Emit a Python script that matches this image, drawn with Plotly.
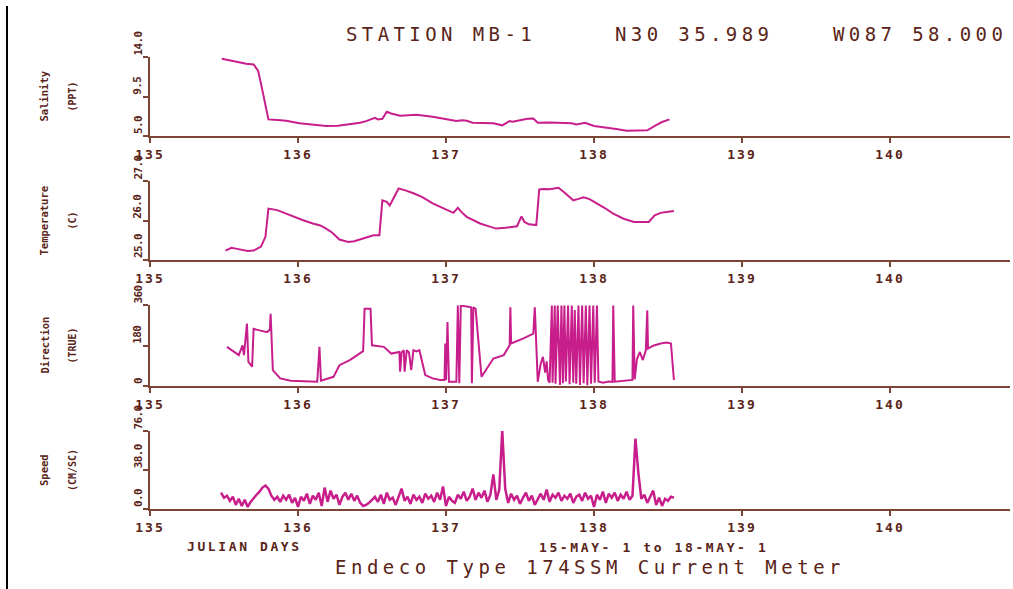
import plotly.graph_objects as go

W, H = 1013, 589

# ---------------- data ----------------
sal_day = [135.485, 135.56, 135.65, 135.70, 135.73, 135.75, 135.78, 135.80, 135.86, 135.92, 136.01, 136.10,
           136.19, 136.27, 136.35, 136.42, 136.46, 136.52, 136.54, 136.57, 136.60, 136.63, 136.69, 136.80,
           136.91, 137.00, 137.03, 137.05, 137.07, 137.11, 137.14, 137.18, 137.25, 137.32, 137.38, 137.43,
           137.45, 137.50, 137.55, 137.59, 137.62, 137.70, 137.81, 137.85, 137.88, 137.94, 138.00, 138.08,
           138.15, 138.22, 138.30, 138.36, 138.42, 138.46, 138.51]
sal_val = [13.85, 13.58, 13.28, 13.2, 12.5, 11.0, 8.34, 6.9, 6.82, 6.74, 6.45, 6.30,
           6.14, 6.17, 6.33, 6.52, 6.7, 7.09, 6.9, 6.97, 7.77, 7.58, 7.31, 7.43,
           7.2, 6.94, 6.88, 6.74, 6.71, 6.80, 6.74, 6.52, 6.50, 6.45, 6.22, 6.71,
           6.64, 6.82, 6.98, 7.0, 6.52, 6.55, 6.52, 6.45, 6.33, 6.52, 6.14, 5.98,
           5.8, 5.6, 5.58, 5.65, 6.25, 6.60, 6.9]

temp_day = [135.51, 135.55, 135.58, 135.63, 135.66, 135.70, 135.75, 135.78, 135.80, 135.86, 135.97, 136.03,
            136.10, 136.15, 136.19, 136.23, 136.28, 136.34, 136.38, 136.44, 136.47, 136.51, 136.55, 136.57,
            136.60, 136.62, 136.68, 136.72, 136.78, 136.84, 136.91, 136.98, 137.05, 137.08, 137.11, 137.14,
            137.18, 137.23, 137.28, 137.34, 137.40, 137.48, 137.51, 137.53, 137.56, 137.61, 137.63, 137.66,
            137.70, 137.76, 137.80, 137.86, 137.89, 137.93, 137.97, 138.02, 138.07, 138.13, 138.20, 138.27,
            138.32, 138.37, 138.41, 138.45, 138.49, 138.54]
temp_val = [25.24, 25.31, 25.29, 25.25, 25.23, 25.24, 25.34, 25.59, 26.31, 26.27, 26.10, 26.02,
            25.93, 25.88, 25.80, 25.70, 25.52, 25.46, 25.48, 25.55, 25.60, 25.63, 25.63, 26.52,
            26.48, 26.39, 26.82, 26.78, 26.70, 26.60, 26.44, 26.33, 26.20, 26.33, 26.20, 26.10,
            26.02, 25.93, 25.87, 25.80, 25.82, 25.86, 26.11, 25.97, 25.91, 25.89, 26.80, 26.81,
            26.80, 26.84, 26.72, 26.52, 26.55, 26.60, 26.55, 26.45, 26.33, 26.18, 26.05, 25.97,
            25.97, 25.97, 26.14, 26.20, 26.22, 26.25]

dir_day = [135.52, 135.56, 135.60, 135.625, 135.635, 135.655, 135.665, 135.69, 135.70, 135.72, 135.74, 135.79,
           135.81, 135.815, 135.83, 135.88, 135.95, 136.01, 136.13, 136.145, 136.155, 136.24, 136.28, 136.35,
           136.44, 136.45, 136.49, 136.50, 136.58, 136.63, 136.685, 136.69, 136.70, 136.715, 136.72, 136.735,
           136.75, 136.765, 136.78, 136.80, 136.82, 136.86, 136.91, 136.96, 136.99, 136.995, 137.00, 137.01,
           137.02, 137.07, 137.08, 137.09, 137.10, 137.17, 137.175, 137.185, 137.20, 137.24, 137.32, 137.39,
           137.43, 137.435, 137.44, 137.52, 137.59, 137.60, 137.62, 137.64, 137.655, 137.67, 137.68, 137.69,
           137.70, 137.715, 137.72, 137.735, 137.74, 137.755, 137.77, 137.78, 137.79, 137.80, 137.81, 137.825,
           137.835, 137.85, 137.86, 137.87, 137.88, 137.895, 137.905, 137.92, 137.93, 137.945, 137.955, 137.97,
           137.98, 137.995, 138.005, 138.02, 138.03, 138.06, 138.10, 138.125, 138.13, 138.14, 138.22, 138.26,
           138.265, 138.275, 138.29, 138.31, 138.33, 138.35, 138.36, 138.365, 138.40, 138.45, 138.49, 138.52,
           138.54]
dir_val = [175, 157, 138, 182, 138, 279, 108, 86, 256, 252, 249, 241,
           252, 323, 71, 34, 24, 22, 19, 175, 24, 41, 93, 116,
           156, 345, 345, 182, 175, 145, 152, 64, 150, 160, 64, 160,
           150, 71, 160, 155, 160, 49, 34, 27, 27, 190, 27, 286,
           19, 19, 360, 12, 360, 352, 12, 352, 345, 41, 123, 138,
           182, 352, 190, 212, 234, 352, 19, 100, 130, 60, 110, 27,
           15, 360, 15, 360, 10, 360, 5, 360, 12, 360, 20, 360,
           8, 360, 15, 340, 10, 360, 5, 360, 12, 360, 3, 360,
           10, 360, 15, 360, 20, 15, 20, 18, 360, 19, 25, 27,
           360, 30, 120, 152, 116, 160, 338, 167, 180, 190, 194, 190,
           27]

spd_day = [135.48, 135.50, 135.52, 135.54, 135.56, 135.58, 135.60, 135.62, 135.64, 135.66, 135.68, 135.70,
           135.72, 135.74, 135.76, 135.78, 135.80, 135.82, 135.84, 135.86, 135.88, 135.90, 135.92, 135.94,
           135.96, 135.98, 136.00, 136.02, 136.04, 136.06, 136.08, 136.10, 136.12, 136.14, 136.16, 136.18,
           136.20, 136.22, 136.24, 136.26, 136.28, 136.30, 136.32, 136.34, 136.36, 136.38, 136.40, 136.42,
           136.44, 136.46, 136.48, 136.50, 136.52, 136.54, 136.56, 136.58, 136.60, 136.62, 136.64, 136.66,
           136.68, 136.70, 136.72, 136.74, 136.76, 136.78, 136.80, 136.82, 136.84, 136.86, 136.88, 136.90,
           136.92, 136.94, 136.96, 136.98, 137.00, 137.02, 137.04, 137.06, 137.08, 137.10, 137.12, 137.14,
           137.16, 137.18, 137.20, 137.22, 137.24, 137.26, 137.28, 137.30, 137.32, 137.34, 137.36, 137.38,
           137.40, 137.42, 137.44, 137.46, 137.48, 137.50, 137.52, 137.54, 137.56, 137.58, 137.60, 137.62,
           137.64, 137.66, 137.68, 137.70, 137.72, 137.74, 137.76, 137.78, 137.80, 137.82, 137.84, 137.86,
           137.88, 137.90, 137.92, 137.94, 137.96, 137.98, 138.00, 138.02, 138.04, 138.06, 138.08, 138.10,
           138.12, 138.14, 138.16, 138.18, 138.20, 138.22, 138.24, 138.26, 138.28, 138.30, 138.32, 138.34,
           138.36, 138.38, 138.40, 138.42, 138.44, 138.46, 138.48, 138.50, 138.52, 138.54]
spd_val = [16, 11, 13, 8, 12, 4, 10, 3, 9, 2, 7, 11,
           14, 17, 21, 23, 20, 13, 9, 12, 7, 13, 9, 14,
           6, 11, 2, 12, 8, 15, 5, 13, 9, 16, 3, 21,
           7, 18, 10, 14, 4, 12, 16, 9, 15, 8, 13, 6,
           3, 4, 6, 9, 12, 7, 14, 5, 16, 9, 11, 4,
           13, 20, 8, 12, 5, 14, 9, 12, 6, 15, 10, 13,
           7, 16, 9, 22, 3, 12, 8, 6, 14, 10, 17, 8,
           12, 20, 9, 16, 11, 18, 7, 14, 34, 9, 19, 77,
           20, 6, 15, 9, 13, 5, 11, 16, 8, 13, 4, 10,
           15, 9, 19, 7, 14, 11, 16, 8, 13, 10, 15, 6,
           12, 14, 8, 16, 10, 13, 2, 14, 9, 17, 6, 15,
           11, 16, 8, 14, 10, 17, 9, 13, 69, 35, 10, 14,
           6, 12, 18, 4, 11, 3, 10, 8, 12, 11]

x_ticks = [135, 136, 137, 138, 139, 140]
panels = [
    dict(name="Salinity", unit="(PPT)", rng=[5.0, 14.0], ticks=[5.0, 9.5, 14.0], labels=["5.0", "9.5", "14.0"]),
    dict(name="Temperature", unit="(C)", rng=[25.0, 27.0], ticks=[25.0, 26.0, 27.0], labels=["25.0", "26.0", "27.0"]),
    dict(name="Direction", unit="(TRUE)", rng=[0, 360], ticks=[0, 180, 360], labels=["0", "180", "360"]),
    dict(name="Speed", unit="(CM/SC)", rng=[0.0, 76.0], ticks=[0.0, 38.0, 76.0], labels=["0.0", "38.0", "76.0"]),
]
series = [(sal_day, sal_val), (temp_day, temp_val), (dir_day, dir_val), (spd_day, spd_val)]

# ---------------- styling / layout ----------------
LINE = "#c81e8c"
AXIS = "#7b4434"
TEXT = "#5a2418"
MONO = "DejaVu Sans Mono"

def px(x):
    return x / W

def py(y):
    return 1 - y / H

def sp(s, ls):
    return f'<span style="letter-spacing:{ls}px">{s}</span>'

boxes = [(57, 136), (181, 260), (305, 386), (431, 509)]
x_left, x_right = 150, 1010
x_max = 135 + (x_right - x_left) / 148.0
widths = [2, 2, 2, 2.5]

fig = go.Figure()
layout = dict(
    width=W, height=H, margin=dict(l=0, r=0, t=0, b=0, autoexpand=False),
    paper_bgcolor="white", plot_bgcolor="rgba(0,0,0,0)", showlegend=False,
)
annotations = []

for i, (p, (xd, yd), (top, bot)) in enumerate(zip(panels, series, boxes)):
    n = "" if i == 0 else str(i + 1)
    fig.add_trace(go.Scatter(x=xd, y=yd, mode="lines", xaxis="x" + n, yaxis="y" + n,
                             line=dict(color=LINE, width=widths[i]), hoverinfo="skip"))
    layout["xaxis" + n] = dict(
        domain=[px(x_left), px(x_right)], range=[135, x_max], anchor="y" + n,
        tickvals=x_ticks, ticktext=[sp(str(t), 2) for t in x_ticks],
        showline=True, linecolor=AXIS, linewidth=2, ticks="outside", ticklen=5, tickwidth=2,
        tickcolor=AXIS, showgrid=False, zeroline=False,
        tickfont=dict(family=MONO, size=13, color=TEXT, weight="bold"),
    )
    pad = (p["rng"][1] - p["rng"][0]) * 0.006
    layout["yaxis" + n] = dict(
        domain=[py(bot), py(top)], range=[p["rng"][0], p["rng"][1] + pad], anchor="x" + n,
        tickvals=p["ticks"], showticklabels=False,
        showline=True, linecolor=AXIS, linewidth=2, ticks="outside", ticklen=5, tickwidth=2,
        tickcolor=AXIS, showgrid=False, zeroline=False,
    )
    for tv, tl in zip(p["ticks"], p["labels"]):
        annotations.append(dict(
            x=px(138), xref="paper", y=tv, yref="y" + n, text=sp(tl, -0.6), textangle=-90,
            showarrow=False, xanchor="center", yanchor="bottom",
            font=dict(family=MONO, size=11, color=TEXT, weight="bold"),
        ))
    mid = (top + bot) / 2
    annotations.append(dict(x=px(44), y=py(mid), xref="paper", yref="paper", text=p["name"],
                            textangle=-90, showarrow=False, xanchor="center", yanchor="middle",
                            font=dict(family=MONO, size=10.5, color=TEXT, weight="bold")))
    annotations.append(dict(x=px(72), y=py(mid), xref="paper", yref="paper", text=p["unit"],
                            textangle=-90, showarrow=False, xanchor="center", yanchor="middle",
                            font=dict(family=MONO, size=10, color=TEXT, weight="bold")))

big = dict(family=MONO, size=19, color=TEXT)
for txt, x0 in [("STATION MB-1", 344), ("N30 35.989", 613), ("W087 58.000", 831)]:
    annotations.append(dict(x=px(x0), y=py(34), xref="paper", yref="paper", text=sp(txt, 4.4),
                            showarrow=False, xanchor="left", yanchor="middle", font=big))
annotations.append(dict(x=px(333), y=py(567), xref="paper", yref="paper",
                        text=sp("Endeco Type 174SSM Current Meter", 4.5),
                        showarrow=False, xanchor="left", yanchor="middle", font=big))
small = dict(family=MONO, size=13, color=TEXT, weight="bold")
annotations.append(dict(x=px(185), y=py(546), xref="paper", yref="paper", text=sp("JULIAN DAYS", 2.6),
                        showarrow=False, xanchor="left", yanchor="middle", font=small))
annotations.append(dict(x=px(537), y=py(547), xref="paper", yref="paper",
                        text=sp("15-MAY- 1 to 18-MAY- 1", 2.6),
                        showarrow=False, xanchor="left", yanchor="middle", font=small))

layout["annotations"] = annotations
layout["shapes"] = [dict(type="line", xref="paper", yref="paper", x0=px(7), x1=px(7), y0=py(6), y1=py(589),
                         line=dict(color="black", width=2))]
fig.update_layout(**layout)
fig.write_html("out.html", config={"displayModeBar": False},
               post_script="document.body.style.margin='0px';")
